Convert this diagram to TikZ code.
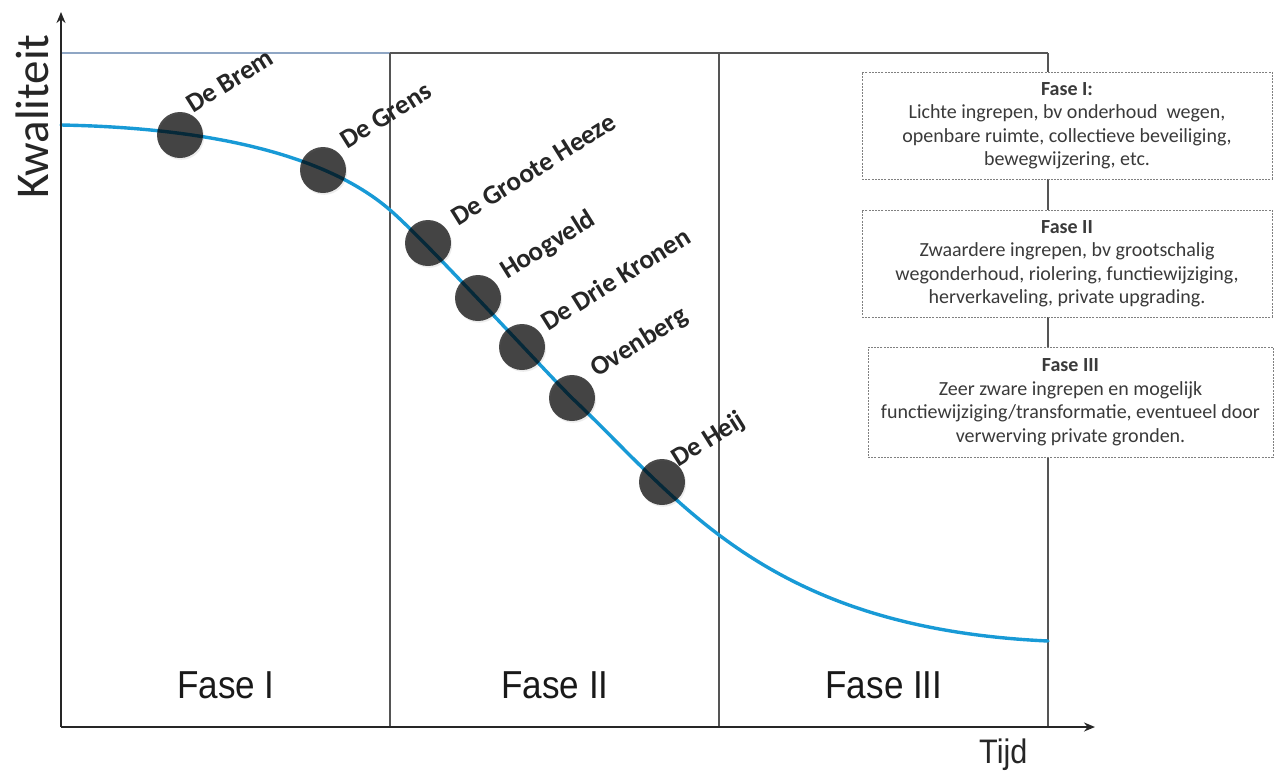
\documentclass[tikz,border=0pt]{standalone}
\usepackage{fontspec}
\setmainfont{Carlito}
\newfontfamily\axisfont{Liberation Sans}
\usetikzlibrary{arrows.meta,shadows}

\definecolor{curveblue}{RGB}{24,154,214}
\definecolor{framegray}{RGB}{85,85,85}
\definecolor{topblue}{RGB}{143,166,196}
\definecolor{dotgray}{RGB}{74,74,74}
\definecolor{textgray}{RGB}{58,58,58}
\definecolor{boxline}{RGB}{128,128,128}

\tikzset{
  frameline/.style={draw=framegray, line width=1.3pt},
  axisline/.style={draw=black!85, line width=2pt, -{Stealth[length=11pt,width=9pt]}},
  dot/.style={circle, fill=dotgray, minimum size=46pt, inner sep=0pt,
    blend mode=multiply,
    drop shadow={shadow xshift=1.2pt, shadow yshift=-1.8pt, opacity=0.15}},
  sitelabel/.style={anchor=base west, rotate=32, inner sep=0pt,
    text=black!85, font=\fontsize{27}{31}\selectfont\bfseries},
  infobox/.style={draw=boxline, line width=0.9pt, dash pattern=on 2pt off 1.2pt,
    fill=white, align=center, text=textgray, inner sep=0pt,
    font=\fontsize{20}{23.5}\selectfont},
  phaselabel/.style={anchor=base, text=black!90,
    font=\axisfont\fontsize{39}{44}\selectfont},
}

\begin{document}
\begin{tikzpicture}[x=1pt,y=-1pt]
\useasboundingbox (0,0) rectangle (1280,780);

% corner points of the phase frame
\coordinate (tl) at (61,53);
\coordinate (d1) at (390,53);
\coordinate (d2) at (719,53);
\coordinate (tr) at (1048,53);
\coordinate (b1) at (390,727);
\coordinate (b2) at (719,727);
\coordinate (br) at (1048,727);

% phase frame
\draw[draw=topblue, line width=1.3pt] (tl) -- (d1);
\draw[frameline] (d1) -- (tr);
\draw[frameline] (d1) -- (b1);
\draw[frameline] (d2) -- (b2);
\draw[frameline] (tr) -- (br);

% quality curve: three joined cubic pieces
\coordinate (c0) at (61,125);
\coordinate (c1) at (390,210);
\coordinate (c2) at (572,398);
\coordinate (c3) at (1048,641);
\draw[curveblue, line width=3.4pt, line cap=round]
  (c0) .. controls (220,128) and (330,158) .. (c1)
       .. controls (425,240) and (540,366) .. (c2)
       .. controls (680,500) and (765,628) .. (c3);

% neighbourhoods on the curve
\node[dot] (brem) at (180,135) {};
\node[dot] (grens) at (323,170) {};
\node[dot] (groote) at (428,243) {};
\node[dot] (hoogveld) at (478,298) {};
\node[dot] (drie) at (522,347) {};
\node[dot] (oven) at (572,398) {};
\node[dot] (heij) at (662,482) {};

\node[sitelabel] (lbrem) at ([shift={(13,-21)}]brem.center) {De Brem};
\node[sitelabel] (lgrens) at ([shift={(24,-20)}]grens.center) {De Grens};
\node[sitelabel] (lgroote) at ([shift={(30,-16)}]groote.center) {De Groote Heeze};
\node[sitelabel] (lhoogveld) at ([shift={(29,-18)}]hoogveld.center) {Hoogveld};
\node[sitelabel] (ldrie) at ([shift={(26,-15)}]drie.center) {De Drie Kronen};
\node[sitelabel] (loven) at ([shift={(25,-20)}]oven.center) {Ovenberg};
\node[sitelabel] (lheij) at ([shift={(16,-14)}]heij.center) {De Heij};

% phase descriptions
\node[infobox, minimum width=410pt, minimum height=107pt] (box1) at (1067,125.5)
  {\textbf{Fase I:}\\Lichte ingrepen, bv onderhoud\ \ wegen,\\openbare ruimte, collectieve beveiliging,\\bewegwijzering, etc.};
\node[infobox, minimum width=410pt, minimum height=107pt] (box2) at (1067,263.5)
  {\textbf{Fase II}\\Zwaardere ingrepen, bv grootschalig\\wegonderhoud, riolering, functiewijziging,\\herverkaveling, private upgrading.};
\node[infobox, minimum width=405pt, minimum height=110pt] (box3) at (1070.5,402)
  {\textbf{Fase III}\\Zeer zware ingrepen en mogelijk\\functiewijziging/transformatie, eventueel door\\verwerving private gronden.};

% phase names
\node[phaselabel] (f1) at (226,698) {\scalebox{0.9}[1]{Fase I}};
\node[phaselabel] (f2) at (555,698) {\scalebox{0.9}[1]{Fase II}};
\node[phaselabel] (f3) at (884,698) {\scalebox{0.9}[1]{Fase III}};

% axes
\coordinate (origin) at (61,727);
\coordinate (ytip) at (61,12);
\coordinate (xtip) at (1095,727);
\draw[axisline] (origin) -- (ytip);
\draw[axisline] (origin) -- (xtip);

\node[anchor=base west, rotate=90, inner sep=0pt, text=black!85,
  font=\fontsize{47}{52}\selectfont] (ylab) at (48,199) {Kwaliteit};
\node[anchor=base west, inner sep=0pt, text=black!85,
  font=\axisfont\fontsize{34}{40}\selectfont] (xlab) at (979,763) {\scalebox{0.9}[1]{Tijd}};
\end{tikzpicture}
\end{document}
